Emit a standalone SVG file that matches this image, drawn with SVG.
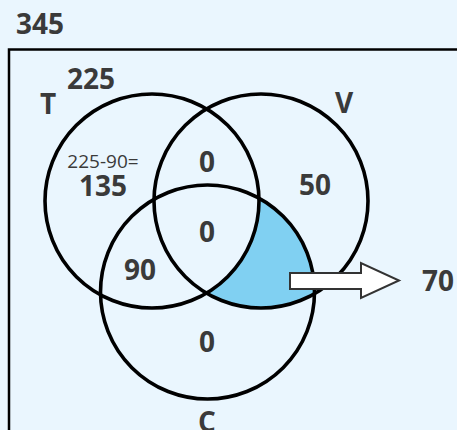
<svg xmlns="http://www.w3.org/2000/svg" width="457" height="430" viewBox="0 0 457 430">
<style>
.bg{fill:#eaf6fe}
.circ{fill:none;stroke:#000;stroke-width:3.6}
.t{font-family:"Open Sans","Liberation Sans",sans-serif;font-weight:bold;font-size:28px;fill:#3a3a3a;text-anchor:middle}
.s{font-family:"Open Sans","Liberation Sans",sans-serif;font-size:19px;fill:#3a3a3a;text-anchor:middle}
</style>
<rect class="bg" x="0" y="0" width="457" height="430"/>
<g id="universe">
<rect x="9" y="49.5" width="460" height="400" fill="none" stroke="#000" stroke-width="2.5"/>
<text class="t" x="40" y="34">345</text>
</g>
<g id="shaded">
<path d="M258.95 198.2 A107 107 0 0 1 206.5 293.1 A107 107 0 0 0 314.5 293.7 A107 107 0 0 0 258.95 198.2 Z" fill="#80d0f2"/>
</g>
<g id="T">
<circle class="circ" cx="152" cy="201" r="107"/>
<text class="t" x="48" y="114">T</text>
<text class="t" x="91" y="89">225</text>
<text class="s" x="103" y="168">225-90=</text>
<text class="t" x="103" y="196">135</text>
</g>
<g id="V">
<circle class="circ" cx="261" cy="201" r="107"/>
<text class="t" x="344" y="113">V</text>
<text class="t" x="315" y="195">50</text>
</g>
<g id="C">
<circle class="circ" cx="207.5" cy="292" r="107"/>
<text class="t" x="207" y="432">C</text>
<text class="t" x="207" y="352">0</text>
</g>
<g id="regions">
<text class="t" x="207" y="172">0</text>
<text class="t" x="207" y="242">0</text>
<text class="t" x="140" y="280">90</text>
</g>
<g id="connectors">
<path d="M290 273 L361 273 L361 263 L399 280.5 L361 298 L361 289 L290 289 Z" fill="#fff" stroke="#333" stroke-width="2" stroke-linejoin="miter"/>
</g>
<g id="result">
<text class="t" x="438" y="291">70</text>
</g>
</svg>
